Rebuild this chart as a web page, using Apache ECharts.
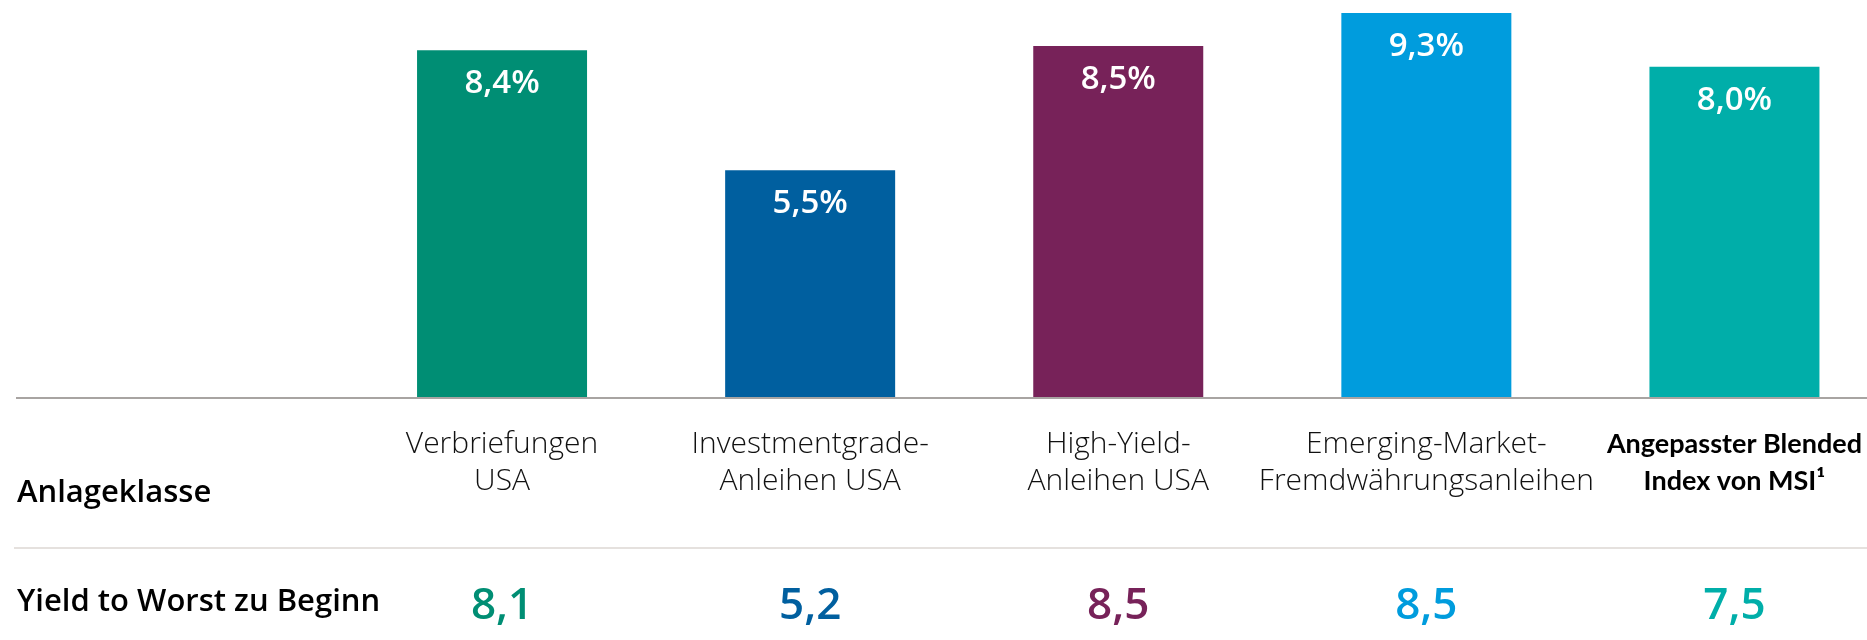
<!DOCTYPE html>
<html>
<head>
<meta charset="utf-8">
<script src="https://cdn.jsdelivr.net/npm/echarts@6/dist/echarts.min.js"></script>
<style>
html,body{margin:0;padding:0;background:#fff;}
#c{width:1867px;height:640px;}
</style>
</head>
<body>
<div id="c"></div>
<script>
// ---- data ----
var categories = [
  "Verbriefungen\nUSA",
  "Investmentgrade-\nAnleihen USA",
  "High-Yield-\nAnleihen USA",
  "Emerging-Market-\nFremdwährungsanleihen",
  "Angepasster Blended\nIndex von MSI¹"
];
var returnsPct = [8.4, 5.5, 8.5, 9.3, 8.0];
var yieldToWorst = [8.1, 5.2, 8.5, 8.5, 7.5];
var rowHeaders = ["Anlageklasse", "Yield to Worst zu Beginn"];
var barColors = ["#008e74", "#005f9f", "#772259", "#009cdd", "#00aea9"];

function fmt(v) { return v.toFixed(1).replace('.', ','); }

var chart = echarts.init(document.getElementById('c'), null, {renderer: 'canvas'});

var yieldRich = {};
barColors.forEach(function (c, i) {
  yieldRich['y' + i] = {color: c, fontSize: 44, fontFamily: 'Open Sans', fontWeight: 600, lineHeight: 48};
});

var option = {
  animation: false,
  backgroundColor: '#ffffff',
  grid: {left: 348, width: 1540.5, top: 4.7, bottom: 242, containLabel: false, outerBoundsMode: 'none'},
  xAxis: [
    {
      type: 'category',
      data: categories,
      position: 'bottom',
      axisLine: {show: true, lineStyle: {color: '#a8a4a2', width: 2}},
      axisTick: {show: false},
      axisLabel: {
        interval: 0,
        margin: 28,
        hideOverlap: false,
        formatter: function (v, i) {
          var st = (i === categories.length - 1) ? 'b' : 'n';
          return v.split('\n').map(function (s) { return '{' + st + '|' + s + '}'; }).join('\n');
        },
        rich: {
          n: {fontFamily: 'Open Sans', fontWeight: 300, fontSize: 30, color: '#111', lineHeight: 37},
          b: {fontFamily: 'Lato', fontWeight: 'bold', fontSize: 27, color: '#000', lineHeight: 37}
        }
      },
      z: 5
    },
    {
      type: 'category',
      data: categories,
      position: 'bottom',
      offset: 172,
      axisLine: {show: false},
      axisTick: {show: false},
      axisLabel: {
        interval: 0,
        margin: 12,
        formatter: function (v, i) { return '{y' + i + '|' + fmt(yieldToWorst[i]) + '}'; },
        rich: yieldRich
      }
    }
  ],
  yAxis: {type: 'value', min: 0, max: 9.5, show: false, splitLine: {show: false}},
  series: [{
    type: 'bar',
    barWidth: 170,
    data: returnsPct.map(function (v, i) { return {value: v, itemStyle: {color: barColors[i]}}; }),
    label: {
      show: true,
      position: 'insideTop',
      distance: 17,
      color: '#ffffff',
      fontFamily: 'Open Sans',
      fontWeight: 600,
      fontSize: 33,
      formatter: function (p) { return fmt(p.value) + '%'; }
    }
  }],
  graphic: [
    {type: 'line', shape: {x1: 16, y1: 398, x2: 350, y2: 398}, style: {stroke: '#a8a4a2', lineWidth: 2}, z: 1},
    {type: 'line', shape: {x1: 14, y1: 548, x2: 1867, y2: 548}, style: {stroke: '#dcd7d3', lineWidth: 1.5}, z: 1},
    {type: 'text', left: 17, top: 494 - 16, style: {text: rowHeaders[0], fill: '#000', font: '600 31px "Open Sans"'}},
    {type: 'text', left: 17, top: 603 - 16, style: {text: rowHeaders[1], fill: '#000', font: '600 31px "Open Sans"'}}
  ]
};
chart.setOption(option);
</script>
</body>
</html>
